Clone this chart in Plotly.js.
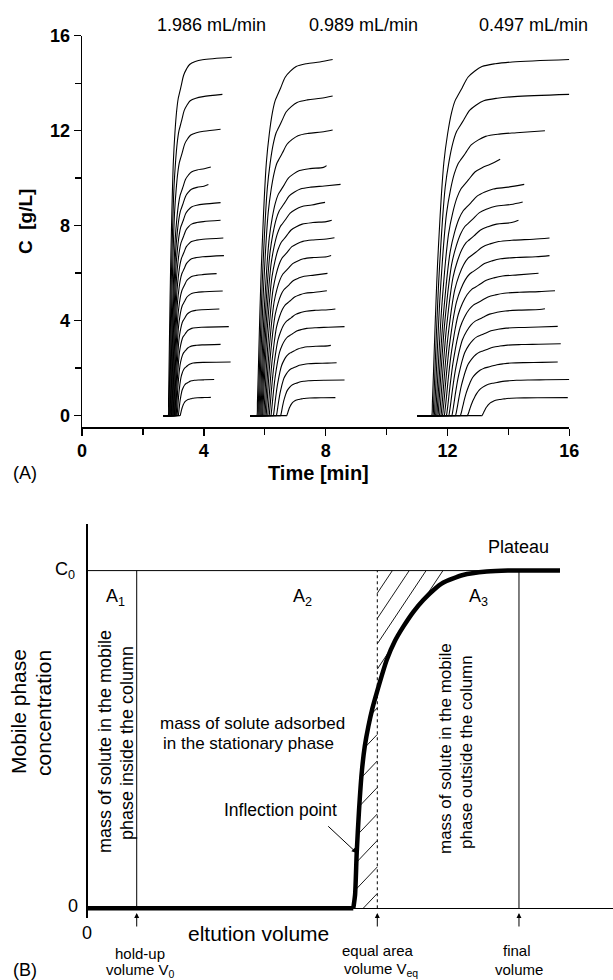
<!DOCTYPE html>
<html>
<head>
<meta charset="utf-8">
<script src="https://cdn.plot.ly/plotly-3.0.1.min.js"></script>
<style>html,body{margin:0;padding:0;background:#fff;}#chart{width:613px;height:980px;}</style>
</head>
<body>
<div id="chart"></div>
<script>
// ---------------- Panel (A) data: breakthrough curves ----------------
const flowLabels = ["1.986 mL/min", "0.989 mL/min", "0.497 mL/min"];
const xTickVals = [0, 4, 8, 12, 16];
const yTickVals = [0, 4, 8, 12, 16];
const minorTickVals = [2, 6, 10, 14];

// common normalised front profile (fraction of plateau vs. time / (t90 - t0))
const profileTau  = [0, 0.03, 0.07, 0.12, 0.17, 0.22, 0.29, 0.36, 0.46, 0.60, 0.75, 0.89, 1.00, 1.15, 1.37, 1.62, 1.90, 2.40, 3.04];
const profileFrac = [0, 0.04, 0.12, 0.23, 0.33, 0.42, 0.52, 0.61, 0.71, 0.79, 0.85, 0.885, 0.90, 0.92, 0.95, 0.967, 0.98, 0.988, 0.993];

// flow 1.986 mL/min
const g1Base = 2.67;
const g1Level = [15.09, 13.53, 12.06, 10.47, 9.73, 8.97, 8.23, 7.48, 6.74, 5.98, 5.25, 4.49, 3.75, 3.00, 2.26, 1.52, 0.77];
const g1End   = [4.92, 4.61, 4.55, 4.23, 4.15, 4.55, 4.55, 4.64, 4.66, 4.42, 4.62, 4.51, 4.82, 4.55, 4.88, 4.34, 4.23];
const g1T0    = [2.83, 2.85, 2.87, 2.89, 2.91, 2.93, 2.95, 2.97, 2.99, 3.01, 3.03, 3.05, 3.07, 3.09, 3.12, 3.16, 3.22];
const g1T90   = [3.20, 3.22, 3.24, 3.26, 3.27, 3.28, 3.29, 3.30, 3.31, 3.32, 3.33, 3.34, 3.35, 3.37, 3.40, 3.44, 3.52];

// flow 0.989 mL/min
const g2Base = 5.52;
const g2Level = [15.00, 13.46, 12.03, 10.53, 9.74, 8.98, 8.23, 7.49, 6.74, 5.99, 5.26, 4.49, 3.75, 2.96, 2.23, 1.50, 0.76];
const g2End   = [8.23, 8.23, 8.23, 8.03, 8.49, 7.98, 8.20, 8.29, 8.18, 8.06, 8.04, 8.32, 8.62, 8.17, 8.36, 8.62, 8.32];
const g2T0    = [5.74, 5.77, 5.80, 5.83, 5.86, 5.89, 5.92, 5.96, 6.00, 6.04, 6.09, 6.14, 6.20, 6.28, 6.38, 6.52, 6.72];
const g2T90   = [6.42, 6.45, 6.48, 6.52, 6.55, 6.58, 6.61, 6.64, 6.67, 6.70, 6.74, 6.78, 6.82, 6.87, 6.93, 7.00, 7.12];

// flow 0.497 mL/min
const g3Base = 11.01;
const g3Level = [15.00, 13.53, 12.00, 10.80, 9.74, 9.00, 8.23, 7.48, 6.74, 6.00, 5.26, 4.50, 3.76, 3.03, 2.26, 1.52, 0.76];
const g3End   = [16.00, 16.00, 15.20, 13.73, 14.52, 14.47, 14.33, 15.35, 15.35, 14.99, 15.53, 15.20, 15.62, 15.72, 15.62, 16.00, 15.95];
const g3T0    = [11.48, 11.52, 11.56, 11.60, 11.64, 11.68, 11.73, 11.78, 11.83, 11.89, 11.96, 12.04, 12.14, 12.26, 12.42, 12.65, 13.13];
const g3T90   = [12.35, 12.40, 12.45, 12.55, 12.62, 12.68, 12.72, 12.78, 12.84, 12.90, 12.96, 13.02, 13.08, 13.16, 13.30, 13.50, 13.73];

// ---------------- Panel (B) data: schematic breakthrough curve ----------------
const curveV = [0, 5.056, 5.090, 5.121, 5.165, 5.216, 5.275, 5.342, 5.420, 5.502, 5.692, 5.850, 6.008, 6.200, 6.389, 6.580, 6.764, 7.145, 7.596, 8.000, 8.991];
const curveC = [0, 0, 0.040, 0.164, 0.290, 0.401, 0.480, 0.538, 0.592, 0.638, 0.735, 0.792, 0.834, 0.878, 0.913, 0.942, 0.964, 0.987, 0.997, 1.000, 1.000];
const C0 = 1.0;
const V0 = 0.933;      // hold-up volume
const Veq = 5.513;     // equal area volume
const Vfinal = 8.21;   // final volume
const inflV = 5.121, inflC = 0.164;

// ---------------- build ----------------
const W = 613, H = 980;
const F = 'Arial, "Liberation Sans", Helvetica, sans-serif';

function groupTrace(base, level, end, t0, t90) {
  const xs = [], ys = [];
  for (let i = 0; i < level.length; i++) {
    xs.push(base); ys.push(0);
    xs.push(t0[i] - 0.03); ys.push(0);
    const w = t90[i] - t0[i];
    for (let k = 0; k < profileTau.length; k++) {
      const t = t0[i] + profileTau[k] * w;
      if (t >= end[i] - 0.05) break;
      xs.push(t); ys.push(level[i] * profileFrac[k]);
    }
    xs.push(end[i]); ys.push(level[i]);
    xs.push(null); ys.push(null);
  }
  return {x: xs, y: ys, type: 'scatter', mode: 'lines', xaxis: 'x', yaxis: 'y',
          line: {color: '#000', width: 1.1, shape: 'spline', smoothing: 0.9}, connectgaps: false, hoverinfo: 'skip', showlegend: false};
}

function interpC(v) {
  if (v <= curveV[0]) return curveC[0];
  for (let i = 1; i < curveV.length; i++) {
    if (v <= curveV[i]) {
      const f = (v - curveV[i-1]) / (curveV[i] - curveV[i-1]);
      return curveC[i-1] + f * (curveC[i] - curveC[i-1]);
    }
  }
  return curveC[curveC.length - 1];
}

// hatching between the curve and the equal-area line
const pxPerV = 52.53, pxPerC = 337.6, yZeroPx = 908.3;
const upperSlope = 1.5 * pxPerV / pxPerC, lowerSlope = 1.05 * pxPerV / pxPerC;
const upperStartPx = 593.3, upperStepPx = 25.3, upperCount = 4;
const lowerStartPx = 708, lowerStepPx = 26.5, lowerCount = 8;
const hx = [], hy = [];
function addHatch(yk, slope, vFrom, vTo, test) {
  let inRun = false;
  for (let v = vFrom; v <= vTo; v += 0.001) {
    const y = yk + slope * (v - Veq);
    if (test(v, y)) { hx.push(v); hy.push(y); inRun = true; }
    else if (inRun) { hx.push(null); hy.push(null); inRun = false; }
  }
  if (inRun) { hx.push(null); hy.push(null); }
}
for (let k = 0; k < upperCount; k++) {
  const yk = (yZeroPx - (upperStartPx + k * upperStepPx)) / pxPerC;
  addHatch(yk, upperSlope, Veq, 8.0, (v, y) => y <= C0 && y >= interpC(v));
}
for (let k = 0; k < lowerCount; k++) {
  const yk = (yZeroPx - (lowerStartPx + k * lowerStepPx)) / pxPerC;
  addHatch(yk, lowerSlope, 4.9, Veq, (v, y) => y >= 0 && y <= interpC(v));
}

const baseIdx = 2;
const data = [
  groupTrace(g1Base, g1Level, g1End, g1T0, g1T90),
  groupTrace(g2Base, g2Level, g2End, g2T0, g2T90),
  groupTrace(g3Base, g3Level, g3End, g3T0, g3T90),
  {x: hx, y: hy, type: 'scatter', mode: 'lines', xaxis: 'x2', yaxis: 'y2', line: {color: '#000', width: 0.9}, connectgaps: false, hoverinfo: 'skip', showlegend: false},
  {x: [0, curveV[curveV.length-1]], y: [C0, C0], type: 'scatter', mode: 'lines', xaxis: 'x2', yaxis: 'y2', line: {color: '#000', width: 1}, hoverinfo: 'skip', showlegend: false},
  {x: [V0, V0], y: [0, C0], type: 'scatter', mode: 'lines', xaxis: 'x2', yaxis: 'y2', line: {color: '#000', width: 1}, hoverinfo: 'skip', showlegend: false},
  {x: [Veq, Veq], y: [0, C0], type: 'scatter', mode: 'lines', xaxis: 'x2', yaxis: 'y2', line: {color: '#000', width: 1, dash: 'dot'}, hoverinfo: 'skip', showlegend: false},
  {x: [Vfinal, Vfinal], y: [0, C0], type: 'scatter', mode: 'lines', xaxis: 'x2', yaxis: 'y2', line: {color: '#000', width: 1}, hoverinfo: 'skip', showlegend: false},
  {x: curveV.slice(0, baseIdx), y: curveC.slice(0, baseIdx), type: 'scatter', mode: 'lines', xaxis: 'x2', yaxis: 'y2', line: {color: '#000', width: 4.5}, hoverinfo: 'skip', showlegend: false},
  {x: curveV.slice(baseIdx - 1), y: curveC.slice(baseIdx - 1), type: 'scatter', mode: 'lines', xaxis: 'x2', yaxis: 'y2', line: {color: '#000', width: 4.5, shape: 'spline', smoothing: 0.6}, hoverinfo: 'skip', showlegend: false}
];

function ann(text, px, py, size, opts) {
  return Object.assign({
    text: text, x: px / W, y: 1 - py / H, xref: 'paper', yref: 'paper', showarrow: false,
    xanchor: 'center', yanchor: 'middle',
    font: {family: F, size: size, color: '#000'}
  }, opts || {});
}
function arrowAnn(x, y, ax, ay) {
  return {text: '', x: x, y: y, xref: 'x2', yref: 'y2', showarrow: true, ax: ax, ay: ay,
          arrowhead: 2, arrowsize: 1, arrowwidth: 1, arrowcolor: '#000'};
}

const annotations = [
  ann(flowLabels[0], 211, 25, 18),
  ann(flowLabels[1], 363.5, 25, 18),
  ann(flowLabels[2], 533, 25, 18),
  ann('C&nbsp; [g/L]', 25, 222, 19, {textangle: -90, font: {family: F, size: 19, color: '#000', weight: 'bold'}}),
  ann('Time [min]', 318, 473, 20, {font: {family: F, size: 20, color: '#000', weight: 'bold'}}),
  ann('(A)', 25, 473, 18),

  ann('Plateau', 518, 547, 18),
  ann('C<sub>0</sub>', 77, 570, 18, {xanchor: 'right'}),
  ann('0', 73, 906, 18),
  ann('0', 87, 933, 18),
  ann('A<sub>1</sub>', 104, 597, 18, {xanchor: 'left'}),
  ann('A<sub>2</sub>', 291, 597, 18, {xanchor: 'left'}),
  ann('A<sub>3</sub>', 467, 597, 18, {xanchor: 'left'}),
  ann('mass of solute in the mobile', 105, 742, 18, {textangle: -90}),
  ann('phase inside the column', 127, 743, 18, {textangle: -90}),
  ann('mass of solute adsorbed', 252, 723, 17),
  ann('in the stationary phase', 248, 743, 17),
  ann('Inflection point', 280, 810, 17.5),
  ann('mass of solute in the mobile', 445, 749, 17, {textangle: -90}),
  ann('phase outside the column', 466, 752, 17, {textangle: -90}),
  ann('Mobile phase', 18, 712, 21, {textangle: -90}),
  ann('concentration', 43, 713, 21, {textangle: -90}),
  ann('eltution volume', 258, 933, 21),
  ann('hold-up', 140, 953, 15),
  ann('volume V<sub>0</sub>', 140, 970, 15),
  ann('equal area', 378, 950, 15),
  ann('volume V<sub>eq</sub>', 381, 969, 15),
  ann('final', 517, 950, 15),
  ann('volume', 519, 969, 15),
  ann('(B)', 25, 970, 18),

  arrowAnn(inflV, inflC, -30, -28),
  arrowAnn(V0, -0.014, 0, 15),
  arrowAnn(Veq, -0.014, 0, 15),
  arrowAnn(Vfinal, -0.014, 0, 15)
];

const tickFont = {family: F, size: 18, color: '#000', weight: 'bold'};
const layout = {
  width: W, height: H,
  margin: {l: 0, r: 0, t: 0, b: 0},
  paper_bgcolor: '#fff', plot_bgcolor: 'rgba(0,0,0,0)',
  showlegend: false,
  xaxis: {
    domain: [82 / W, 569.3 / W], range: [0, 16], anchor: 'y',
    showline: true, linecolor: '#000', linewidth: 1.4, mirror: false,
    ticks: 'outside', ticklen: 7, tickwidth: 1.4, tickcolor: '#000',
    tickvals: xTickVals, ticktext: xTickVals.map(String), tickfont: tickFont,
    minor: {tickvals: minorTickVals, ticks: 'outside', ticklen: 6, tickwidth: 1.4, tickcolor: '#000', showgrid: false},
    showgrid: false, zeroline: false, fixedrange: true
  },
  yaxis: {
    domain: [1 - 427.3 / H, 1 - 35.7 / H], range: [-0.49, 16], anchor: 'x',
    showline: true, linecolor: '#000', linewidth: 1.4,
    ticks: 'outside', ticklen: 7, tickwidth: 1.4, tickcolor: '#000',
    tickvals: yTickVals, ticktext: yTickVals.map(String), tickfont: tickFont,
    minor: {tickvals: minorTickVals, ticks: 'outside', ticklen: 6, tickwidth: 1.4, tickcolor: '#000', showgrid: false},
    showgrid: false, zeroline: false, fixedrange: true
  },
  xaxis2: {
    domain: [87.7 / W, 1], range: [0, 10], anchor: 'y2',
    showline: false, showticklabels: false, ticks: '', showgrid: false, zeroline: false, fixedrange: true
  },
  yaxis2: {
    domain: [1 - 918.4 / H, 1 - 524 / H], range: [-0.03, 1.138], anchor: 'x2',
    showline: true, linecolor: '#000', linewidth: 1.5,
    showticklabels: false, ticks: '', showgrid: false,
    zeroline: true, zerolinecolor: '#000', zerolinewidth: 1.2, fixedrange: true
  },
  annotations: annotations
};

Plotly.newPlot('chart', data, layout, {displayModeBar: false, staticPlot: true});
</script>
</body>
</html>
